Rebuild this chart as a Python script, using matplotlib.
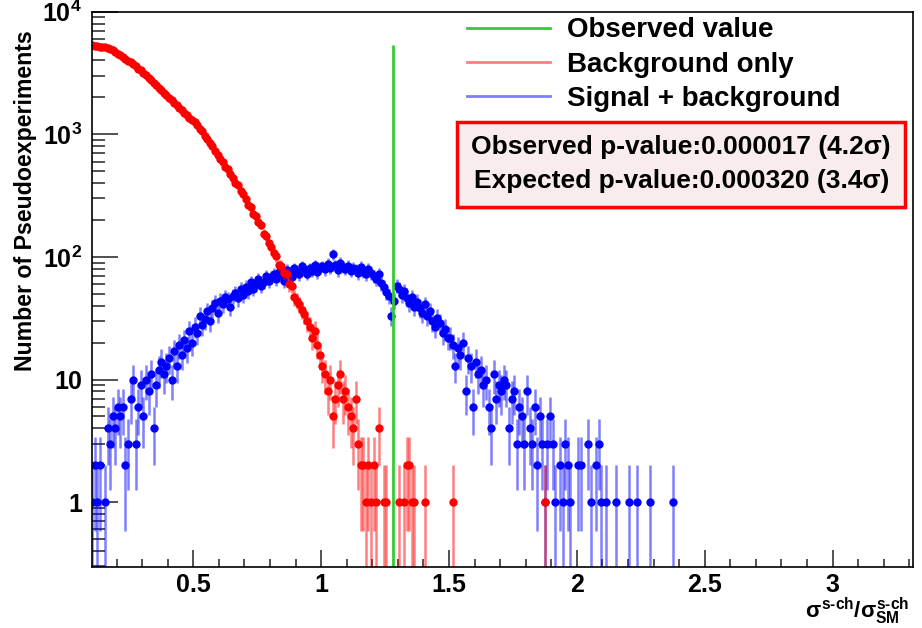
import numpy as np
import matplotlib.pyplot as plt
from matplotlib.lines import Line2D
from matplotlib.patches import Rectangle
from matplotlib.ticker import FixedLocator, FixedFormatter, NullFormatter

plt.rcParams['font.family'] = ['Liberation Sans', 'DejaVu Sans']
plt.rcParams['font.weight'] = 'bold'
plt.rcParams['axes.labelweight'] = 'bold'
plt.rcParams['mathtext.fontset'] = 'custom'
plt.rcParams['mathtext.rm'] = 'Liberation Sans:bold'
plt.rcParams['mathtext.it'] = 'Liberation Sans:bold'
plt.rcParams['mathtext.bf'] = 'Liberation Sans:bold'

# binning of the pseudoexperiment histograms
bin_start = 0.10
bin_width = 0.01

# background only, one row = 0.1 in sigma/sigma_SM, starting at 0.10
bg_counts = [
    5330, 5260, 5210, 5200, 5140, 5130, 5060, 4960, 4830, 4720,
    4560, 4430, 4260, 4130, 3970, 3860, 3710, 3580, 3430, 3320,
    3150, 3030, 2870, 2760, 2620, 2520, 2390, 2300, 2180, 2100,
    1990, 1910, 1810, 1750, 1650, 1590, 1490, 1440, 1360, 1310,
    1250, 1200, 1110, 1060, 970, 920, 845, 800, 735, 680,
    625, 595, 545, 518, 472, 440, 402, 385, 342, 328,
    298, 265, 254, 225, 216, 191, 181, 155, 148, 129,
    121, 108, 101, 86, 85, 74, 73, 60, 58, 47,
    44, 41, 37, 34, 30, 27, 22, 25, 19, 16,
    13, 11, 8, 10, 5, 7, 9, 11, 7, 8,
    6, 5, 4, 7, 3, 2, 2, 1, 2, 1,
    2, 1, 4, 0, 1, 1, 0, 0, 0, 0,
    1, 0, 1, 2, 2, 1, 1, 0, 0, 0,
    1, 0, 0, 0, 0, 0, 0, 0, 0, 0,
    0, 1, 0, 0, 0, 0, 0, 0, 0, 0,
    0, 0, 0, 0, 0, 0, 0, 0, 0, 0,
    0, 0, 0, 0, 0, 0, 0, 0, 0, 0,
    0, 0, 0, 0, 0, 0, 0, 1, 0, 0,
]

# signal + background
sb_counts = [
    1, 2, 1, 2, 0, 1, 4, 3, 5, 4,
    6, 5, 6, 2, 3, 7, 10, 3, 6, 9,
    5, 10, 8, 11, 4, 9, 12, 14, 11, 13,
    15, 10, 17, 13, 19, 16, 21, 18, 25, 20,
    27, 24, 33, 28, 31, 36, 30, 38, 42, 35,
    44, 41, 47, 45, 39, 48, 51, 46, 55, 49,
    57, 53, 62, 55, 60, 66, 58, 63, 70, 64,
    68, 73, 66, 75, 71, 64, 78, 74, 69, 81,
    76, 72, 84, 79, 73, 81, 77, 86, 75, 82,
    84, 79, 88, 81, 105, 86, 78, 90, 83, 80,
    85, 77, 82, 79, 74, 83, 76, 72, 80, 74,
    70, 66, 72, 61, 57, 52, 48, 33, 44, 58,
    55, 49, 53, 46, 42, 47, 39, 43, 38, 35,
    41, 33, 36, 30, 27, 32, 29, 24, 26, 22,
    22, 19, 13, 18, 16, 20, 8, 15, 13, 6,
    14, 11, 12, 9, 10, 6, 4, 11, 7, 9,
    8, 10, 9, 4, 7, 8, 3, 6, 5, 3,
    8, 4, 3, 6, 2, 5, 3, 1, 3, 5,
    3, 1, 0, 2, 1, 3, 2, 1, 0, 0,
    2, 2, 0, 0, 3, 1, 0, 2, 3, 1,
    0, 1, 0, 0, 0, 1, 0, 0, 0, 0,
    1, 0, 0, 1, 0, 0, 0, 0, 1, 0,
    0, 0, 0, 0, 0, 0, 0, 1, 0, 0,
]

observed = 1.282
legend_labels = ['Observed value', 'Background only', 'Signal + background']
pvalue_lines = ['Observed p-value:0.000017 (4.2\u03c3)',
                'Expected p-value:0.000320 (3.4\u03c3)']

x_ticks = [0.5, 1, 1.5, 2, 2.5, 3]
x_ticklabels = ['0.5', '1', '1.5', '2', '2.5', '3']
y_ticks = [1, 10, 100, 1000, 10000]
y_ticklabels = ['1', '10', r'$10^{2}$', r'$10^{3}$', r'$10^{4}$']
xlabel = '$\\sigma^{\\mathrm{s\u2010ch}}/\\sigma^{\\mathrm{s\u2010ch}}_{\\mathrm{SM}}$'


def draw_hist(ax, counts, color):
    counts = np.array(counts, dtype=float)
    centers = bin_start + bin_width * (np.arange(len(counts)) + 0.5)
    keep = counts > 0
    n = counts[keep]
    err = np.sqrt(n)
    lo = np.minimum(err, n - 1e-3)
    ax.errorbar(centers[keep], n, yerr=[lo, err], fmt='none', ecolor=color,
                elinewidth=1.8, alpha=0.5, capsize=0)
    ax.plot(centers[keep], n, 'o', color=color, ms=6, mec=color, mew=0)


fig = plt.figure(figsize=(9.22, 6.28), dpi=100)
ax = fig.add_axes([0.0995, 0.0971, 0.8911, 0.8843])

draw_hist(ax, sb_counts, '#0000ff')
draw_hist(ax, bg_counts, '#ff0000')
ax.vlines(observed, 0.01, max(bg_counts), color='#33cc33', lw=2)

ax.set_yscale('log')
ax.set_xlim(0.103, 3.316)
ax.set_ylim(0.296, 10000)

ax.xaxis.set_major_locator(FixedLocator(x_ticks))
ax.xaxis.set_major_formatter(FixedFormatter(x_ticklabels))
ax.xaxis.set_minor_locator(FixedLocator(np.arange(0.2, 3.31, 0.1)))
ax.yaxis.set_major_locator(FixedLocator(y_ticks))
ax.yaxis.set_major_formatter(FixedFormatter(y_ticklabels))
minors = [m * 10.0 ** e for e in range(-1, 4) for m in range(2, 10)]
ax.yaxis.set_minor_locator(FixedLocator(minors))
ax.yaxis.set_minor_formatter(NullFormatter())

ax.tick_params(axis='both', which='both', direction='in', top=False, right=False,
               labelsize=18, width=1.1, color='#222222')
ax.tick_params(axis='y', which='major', length=18.5, pad=7)
ax.tick_params(axis='y', which='minor', length=9.5)
ax.tick_params(axis='x', which='major', length=12, pad=4)
ax.tick_params(axis='x', which='minor', length=6)
for s in ax.spines.values():
    s.set_linewidth(1.2)

ax.set_ylabel('Number of Pseudoexperiments', fontsize=16.7, ha='right', va='center')
ax.yaxis.set_label_coords(-0.081, 0.967)
ax.set_xlabel(xlabel, fontsize=16, ha='right', va='bottom')
ax.xaxis.set_label_coords(0.995, -0.108)

handles = [Line2D([], [], color='#33cc33', lw=2),
           Line2D([], [], color='#ff7f7f', lw=2),
           Line2D([], [], color='#7f7fff', lw=2)]
ax.legend(handles, legend_labels, loc='upper left', bbox_to_anchor=(0.4568, 0.990),
          frameon=False, fontsize=20, handlelength=3.0, handletextpad=0.6,
          labelspacing=0.3, borderpad=0, borderaxespad=0)

# p-value box
ax.add_patch(Rectangle((0.4476, 0.6423), 0.5453, 0.1531, transform=ax.transAxes,
                       facecolor='#999999', edgecolor='none', alpha=0.35, zorder=5))
ax.add_patch(Rectangle((0.4446, 0.6483), 0.5453, 0.1531, transform=ax.transAxes,
                       facecolor='#f8ecec', edgecolor='#ff0000', lw=2.5, zorder=6))
ax.text(0.7175, 0.7563, pvalue_lines[0], transform=ax.transAxes, ha='center',
        va='center', fontsize=19, zorder=7)
ax.text(0.7175, 0.6951, pvalue_lines[1], transform=ax.transAxes, ha='center',
        va='center', fontsize=19, zorder=7)

fig.savefig('out.png', dpi=100)
